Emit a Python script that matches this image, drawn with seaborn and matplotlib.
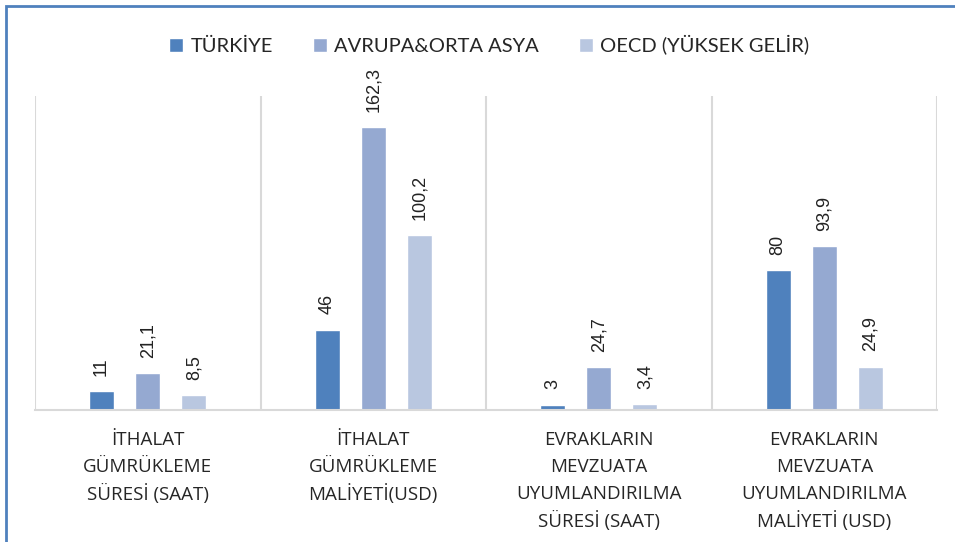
import pandas as pd
import matplotlib.pyplot as plt
import seaborn as sns
from matplotlib.patches import Rectangle

categories = [
    "İTHALAT\nGÜMRÜKLEME\nSÜRESİ (SAAT)",
    "İTHALAT\nGÜMRÜKLEME\nMALİYETİ(USD)",
    "EVRAKLARIN\nMEVZUATA\nUYUMLANDIRILMA\nSÜRESİ (SAAT)",
    "EVRAKLARIN\nMEVZUATA\nUYUMLANDIRILMA\nMALİYETİ (USD)",
]
series = ["TÜRKİYE", "AVRUPA&ORTA ASYA", "OECD (YÜKSEK GELİR)"]
turkiye = [11, 46, 3, 80]
avrupa = [21.1, 162.3, 24.7, 93.9]
oecd = [8.5, 100.2, 3.4, 24.9]
colors = ["#4F81BD", "#95A9D1", "#B9C7E0"]

rows = []
for name, vals in zip(series, [turkiye, avrupa, oecd]):
    for cat, v in zip(categories, vals):
        rows.append({"category": cat, "series": name, "value": v})
df = pd.DataFrame(rows)

sns.set_theme(style="white")
plt.rcParams['font.family'] = ['Liberation Sans', 'DejaVu Sans']

fig = plt.figure(figsize=(9.55, 5.42), dpi=100)
ax = fig.add_axes([35 / 955, 132 / 542, 902 / 955, 314 / 542])

sns.barplot(data=df, x="category", y="value", hue="series", palette=colors,
            width=0.615, gap=0.46, ax=ax, saturation=1)

for cont in ax.containers:
    labels = [f"{v:g}".replace('.', ',') for v in cont.datavalues]
    ax.bar_label(cont, labels=labels, rotation=90, padding=11, fontsize=13,
                 color="#222222")

ax.set_ylim(0, 180)
ax.set_xlim(-0.5, 3.5)
ax.set_xlabel("")
ax.set_ylabel("")
ax.set_yticks([])
for x in [-0.5, 0.5, 1.5, 2.5, 3.5]:
    ax.axvline(x, color="#D9D9D9", lw=1.5, zorder=0)
for s in ["top", "left", "right"]:
    ax.spines[s].set_visible(False)
ax.spines["bottom"].set_color("#D9D9D9")
ax.spines["bottom"].set_linewidth(1.5)

# category names, one line at a time so the rows are evenly spaced
ax.set_xticks(range(len(categories)))
ax.set_xticklabels([])
ax.tick_params(axis="x", length=0)
for i, cat in enumerate(categories):
    for k, line in enumerate(cat.split("\n")):
        ax.annotate(line, xy=(i, 0), xycoords=("data", "axes fraction"),
                    xytext=(0, -30 - 27 * k), textcoords="offset pixels",
                    ha="center", va="center", fontsize=13.5, color="#262626",
                    family=["Open Sans", "DejaVu Sans"])

handles, labs = ax.get_legend_handles_labels()
ax.legend(handles, labs, loc="center",
          bbox_to_anchor=(0.5 + 12 / 955, (542 - 45) / 542),
          bbox_transform=fig.transFigure, ncol=3, frameon=False,
          prop={"family": ["Lato", "DejaVu Sans"], "size": 14.5},
          handlelength=0.7, handleheight=0.7, handletextpad=0.35, columnspacing=2.0)

fig.patches.append(Rectangle((6 / 955, -0.1), 1.2, (542 - 6) / 542 + 0.1,
                             transform=fig.transFigure, fill=False,
                             edgecolor="#4F81BD", lw=2))

fig.savefig("out.png", dpi=100)
